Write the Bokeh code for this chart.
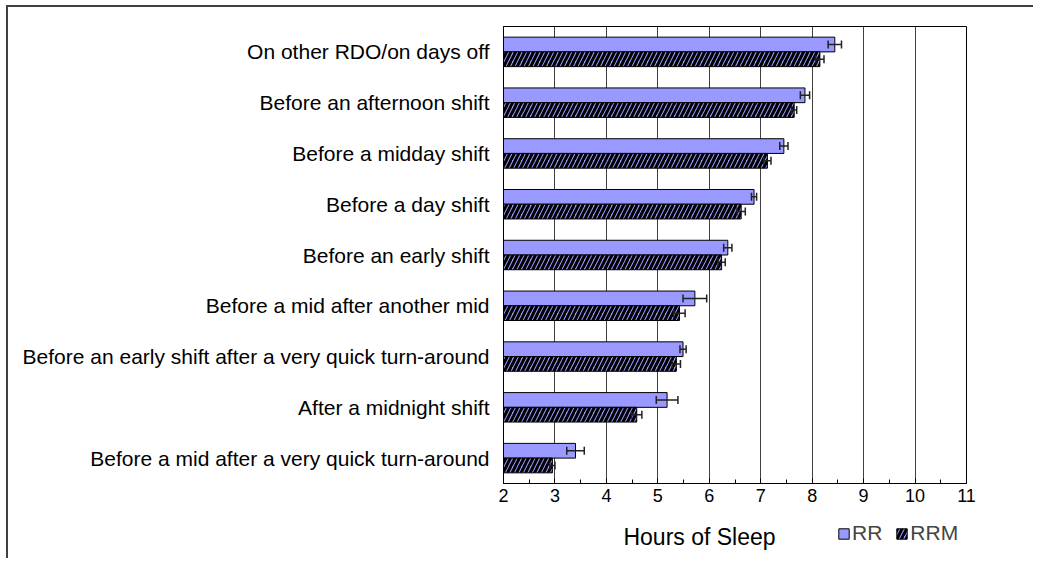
from bokeh.plotting import figure
from bokeh.layouts import column
from bokeh.models import (Range1d, FixedTicker, SingleIntervalTicker, Whisker, TeeHead,
                          ColumnDataSource, Legend, LegendItem, Label)
from bokeh.transform import dodge
from bokeh.embed import file_html
from bokeh.resources import INLINE

# ---- data (top to bottom) ----
categories = [
    "On other RDO/on days off",
    "Before an afternoon shift",
    "Before a midday shift",
    "Before a day shift",
    "Before an early shift",
    "Before a mid after another mid",
    "Before an early shift after a very quick turn-around",
    "After a midnight shift",
    "Before a mid after a very quick turn-around",
]
rr = [8.44, 7.86, 7.45, 6.87, 6.36, 5.72, 5.49, 5.18, 3.40]
rr_err = [0.13, 0.09, 0.08, 0.05, 0.08, 0.23, 0.06, 0.21, 0.17]
rrm = [8.15, 7.65, 7.13, 6.62, 6.24, 5.42, 5.36, 4.59, 2.95]
rrm_err = [0.08, 0.05, 0.07, 0.08, 0.07, 0.11, 0.08, 0.10, 0.05]
series = ["RR", "RRM"]
x_ticks = list(range(2, 12))
x_title = "Hours of Sleep"

n = len(categories)
ypos = list(range(n - 1, -1, -1))

src = ColumnDataSource(dict(
    y=ypos, rr=rr, rrm=rrm,
    rr_lo=[v - e for v, e in zip(rr, rr_err)], rr_hi=[v + e for v, e in zip(rr, rr_err)],
    rrm_lo=[v - e for v, e in zip(rrm, rrm_err)], rrm_hi=[v + e for v, e in zip(rrm, rrm_err)],
))

FONT = "Liberation Sans"
BAR = "#9999FF"
W = 1025
LEFT = 495
RIGHT = 67
HATCH = dict(hatch_pattern="/", hatch_color="black", hatch_weight=3, hatch_scale=9)

p = figure(width=W, height=506, x_range=Range1d(x_ticks[0], x_ticks[-1]),
           y_range=Range1d(-0.5, n - 0.5), output_backend="svg", toolbar_location=None,
           min_border_left=LEFT, min_border_right=RIGHT, min_border_top=19, min_border_bottom=30,
           background_fill_color="white", border_fill_color="white")

bar_h = 0.29
off = 0.145
r1 = p.hbar(y=dodge("y", off), left=x_ticks[0], right="rr", height=bar_h,
            fill_color=BAR, line_color="black", line_width=1, source=src)
r2 = p.hbar(y=dodge("y", -off), left=x_ticks[0], right="rrm", height=bar_h,
            fill_color=BAR, line_color="black", line_width=1, source=src, **HATCH)

for base, lo, hi in [(dodge("y", off), "rr_lo", "rr_hi"), (dodge("y", -off), "rrm_lo", "rrm_hi")]:
    w = Whisker(base=base, lower=lo, upper=hi, dimension="width", source=src,
                line_color="#222222", line_width=1.5, level="annotation",
                upper_head=TeeHead(size=8, line_color="#222222", line_width=1.5),
                lower_head=TeeHead(size=8, line_color="#222222", line_width=1.5))
    p.add_layout(w)

# x axis
p.xaxis.ticker = SingleIntervalTicker(interval=1, num_minor_ticks=2)
p.xaxis.major_label_text_font = FONT
p.xaxis.major_label_text_font_size = "18px"
p.xaxis.major_label_text_color = "black"
p.xaxis.major_tick_in = 5
p.xaxis.major_tick_out = 0
p.xaxis.minor_tick_in = 4
p.xaxis.minor_tick_out = 0
p.xaxis.major_label_standoff = 5
p.xaxis.axis_line_color = "black"
p.xaxis.major_tick_line_color = "black"
p.xaxis.minor_tick_line_color = "black"

# y axis
p.yaxis.ticker = FixedTicker(ticks=ypos)
p.yaxis.major_label_overrides = {y: c for y, c in zip(ypos, categories)}
p.yaxis.major_label_text_font = FONT
p.yaxis.major_label_text_font_size = "21px"
p.yaxis.major_label_text_color = "black"
p.yaxis.major_tick_in = 0
p.yaxis.major_tick_out = 0
p.yaxis.minor_tick_in = 0
p.yaxis.minor_tick_out = 0
p.yaxis.major_label_standoff = 14
p.yaxis.axis_line_color = "black"

p.ygrid.visible = False
p.xgrid.ticker = SingleIntervalTicker(interval=1)
p.xgrid.grid_line_color = "#404040"
p.xgrid.grid_line_width = 1

p.outline_line_color = "black"
p.outline_line_width = 1
p.outline_line_alpha = 1

# ---- lower strip: axis title + legend ----
p2 = figure(width=W, height=45, x_range=p.x_range, y_range=Range1d(0, 1),
            output_backend="svg", toolbar_location=None,
            min_border_left=LEFT, min_border_right=RIGHT, min_border_top=0, min_border_bottom=0,
            background_fill_color="white", border_fill_color="white")
p2.axis.visible = False
p2.grid.visible = False
p2.outline_line_color = None

# legend swatch renderers (single row kept outside the visible strip)
swatch = ColumnDataSource(dict(y=[-5], l=[x_ticks[0]], r=[x_ticks[1]]))
d1 = p2.hbar(y="y", left="l", right="r", height=1, fill_color=BAR, line_color="black",
             line_width=1, source=swatch)
d2 = p2.hbar(y="y", left="l", right="r", height=1, fill_color=BAR, line_color="black",
             line_width=1, source=swatch, **HATCH)

p2.add_layout(Label(x=5.81, y=0.467, text=x_title, text_align="center",
                    text_baseline="middle", text_font=FONT, text_font_size="23px",
                    text_color="black"))

legend = Legend(items=[LegendItem(label=series[0], renderers=[d1]),
                       LegendItem(label=series[1], renderers=[d2])],
                orientation="horizontal", location=(334, 13),
                glyph_width=13, glyph_height=13, label_standoff=2, spacing=13,
                padding=0, margin=0, border_line_color=None, background_fill_alpha=0,
                label_text_font=FONT, label_text_font_size="21px", label_height=13,
                label_text_line_height=0.65)
p2.add_layout(legend)

layout = column(p, p2, spacing=0,
                styles={"border-top": "2px solid #404040", "border-left": "2px solid #404040",
                        "margin-left": "6px", "margin-top": "5px"})

open("out.html", "w").write(file_html(layout, INLINE))
